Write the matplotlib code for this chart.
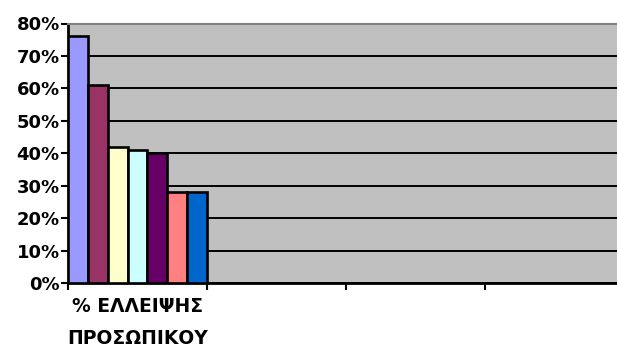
import matplotlib
matplotlib.use("Agg")
import matplotlib.pyplot as plt
import numpy as np

plt.rcParams['font.family'] = ['DejaVu Sans']

category = "% ΕΛΛΕΙΨΗΣ\nΠΡΟΣΩΠΙΚΟΥ"
values = [76, 61, 42, 41, 40, 28, 28]
colors = ["#9999FF", "#993366", "#FFFFCC", "#CCFFFF", "#660066", "#FF8080", "#0066CC"]
n_slots = 4
yticks = [0, 10, 20, 30, 40, 50, 60, 70, 80]

fig = plt.figure(figsize=(6.17, 3.49), dpi=100)
ax = fig.add_axes([68/617, 66/349, 556/617, (283-23.5)/349])
ax.set_facecolor("#C0C0C0")

w = 1.0 / len(values)
for i, (v, c) in enumerate(zip(values, colors)):
    ax.bar(i * w, v, width=w, align='edge', color=c, edgecolor='black', linewidth=1.9, zorder=3)

ax.set_xlim(0, n_slots)
ax.set_ylim(0, 80)
ax.set_yticks(yticks)
ax.set_yticklabels([f"{t}%" for t in yticks], fontsize=13, fontweight='bold')
ax.yaxis.grid(True, color='black', linewidth=1.4, zorder=1)
ax.set_axisbelow(True)

ax.set_xticks(range(n_slots + 1))
ax.set_xticklabels([])
ax.set_xticks([0.5], minor=True)
ax.set_xticklabels([category], minor=True, fontsize=13.5, fontweight='bold', linespacing=1.9)
ax.tick_params(axis='x', which='minor', length=0, pad=10)
ax.tick_params(axis='both', which='major', length=5, width=1.5, color='black', direction='out')
ax.tick_params(axis='y', pad=1)

for s in ['top', 'right']:
    ax.spines[s].set_color('#808080')
    ax.spines[s].set_linewidth(1.5)
for s in ['left', 'bottom']:
    ax.spines[s].set_color('black')
    ax.spines[s].set_linewidth(2)

fig.savefig("out.png", dpi=100)
